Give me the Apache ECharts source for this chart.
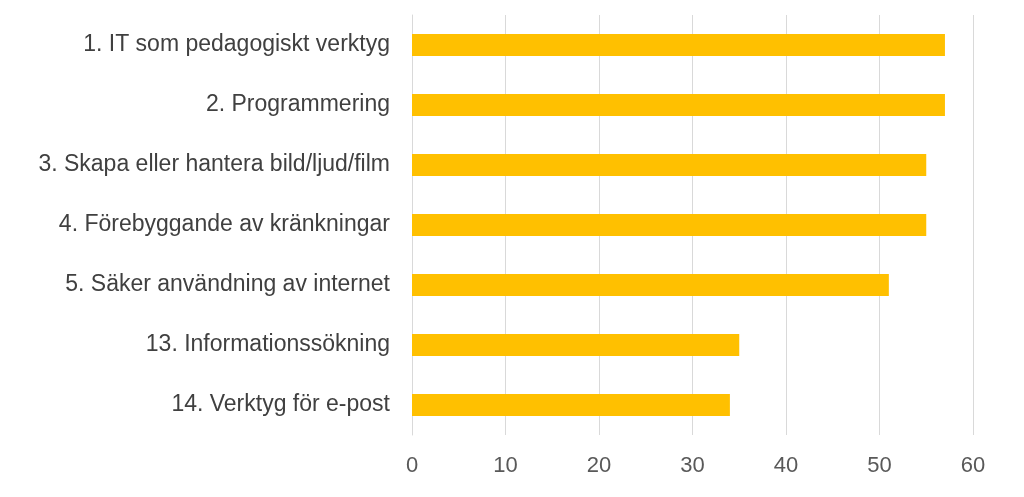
<!DOCTYPE html>
<html><head><meta charset="utf-8">
<script src="https://cdn.jsdelivr.net/npm/echarts@6/dist/echarts.min.js"></script>
<style>html,body{margin:0;padding:0;background:#fff}#c{width:1024px;height:497px}</style>
</head><body><div id="c"></div>
<script>
const categories = ["1. IT som pedagogiskt verktyg","2. Programmering","3. Skapa eller hantera bild/ljud/film","4. Förebyggande av kränkningar","5. Säker användning av internet","13. Informationssökning","14. Verktyg för e-post"];
const values = [57,57,55,55,51,35,34];
const chart = echarts.init(document.getElementById('c'));
chart.setOption({
  animation:false,
  grid:{left:412,right:51,top:15,bottom:62},
  xAxis:{type:'value',min:0,max:60,interval:10,
    axisLine:{show:false},axisTick:{show:false},
    axisLabel:{color:'#595959',fontSize:22,fontFamily:'Liberation Sans, Arial',margin:20},
    splitLine:{lineStyle:{color:'#d9d9d9',width:1}}},
  yAxis:{type:'category',inverse:true,data:categories,
    axisLine:{lineStyle:{color:'#d9d9d9'}},axisTick:{show:false},
    axisLabel:{color:'#404040',fontSize:23,fontFamily:'Liberation Sans, Arial',margin:22}},
  series:[{type:'bar',data:values,barWidth:22,itemStyle:{color:'#FFC000'}}]
});
</script></body></html>
